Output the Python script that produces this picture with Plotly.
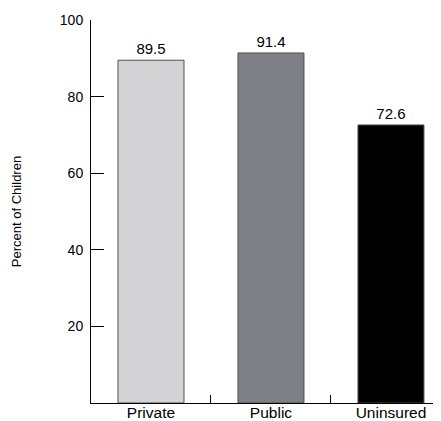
import plotly.graph_objects as go

categories = ["Private", "Public", "Uninsured"]
values = [89.5, 91.4, 72.6]
value_labels = ["89.5", "91.4", "72.6"]
bar_colors = ["#d3d3d6", "#7f8085", "#000000"]
y_ticks = [20, 40, 60, 80, 100]

FONT = "Liberation Sans, Arial, sans-serif"

fig = go.Figure()
fig.add_trace(go.Bar(
    x=categories, y=values,
    text=value_labels, textposition="outside",
    textfont=dict(color="black", size=15, family=FONT),
    marker=dict(color=bar_colors, line=dict(color="#505050", width=1)),
    width=0.55, cliponaxis=False,
))
# page body has an 8px margin, so the figure is sized to fit the 441x421 window
fig.update_layout(
    width=433, height=413,
    margin=dict(l=83, r=0, t=12, b=18),
    plot_bgcolor="white", paper_bgcolor="white",
    font=dict(family=FONT, size=14, color="black"),
    showlegend=False,
    xaxis=dict(range=[-0.5, 2.417], showline=True, linecolor="black", linewidth=1,
               ticks="inside", tickson="boundaries", ticklen=8, tickcolor="black",
               showgrid=False, zeroline=False, tickfont=dict(size=15.5), automargin=False,
               ticklabelstandoff=-5),
    yaxis=dict(range=[0, 100], tickvals=y_ticks, showline=True, linecolor="black", linewidth=1,
               ticks="inside", ticklen=13, tickcolor="black", showgrid=False, zeroline=False,
               ticklabelstandoff=4, tickfont=dict(size=14), automargin=False,
               title=dict(text="Percent of Children", font=dict(size=13), standoff=35)),
)
fig.write_html("out.html")
